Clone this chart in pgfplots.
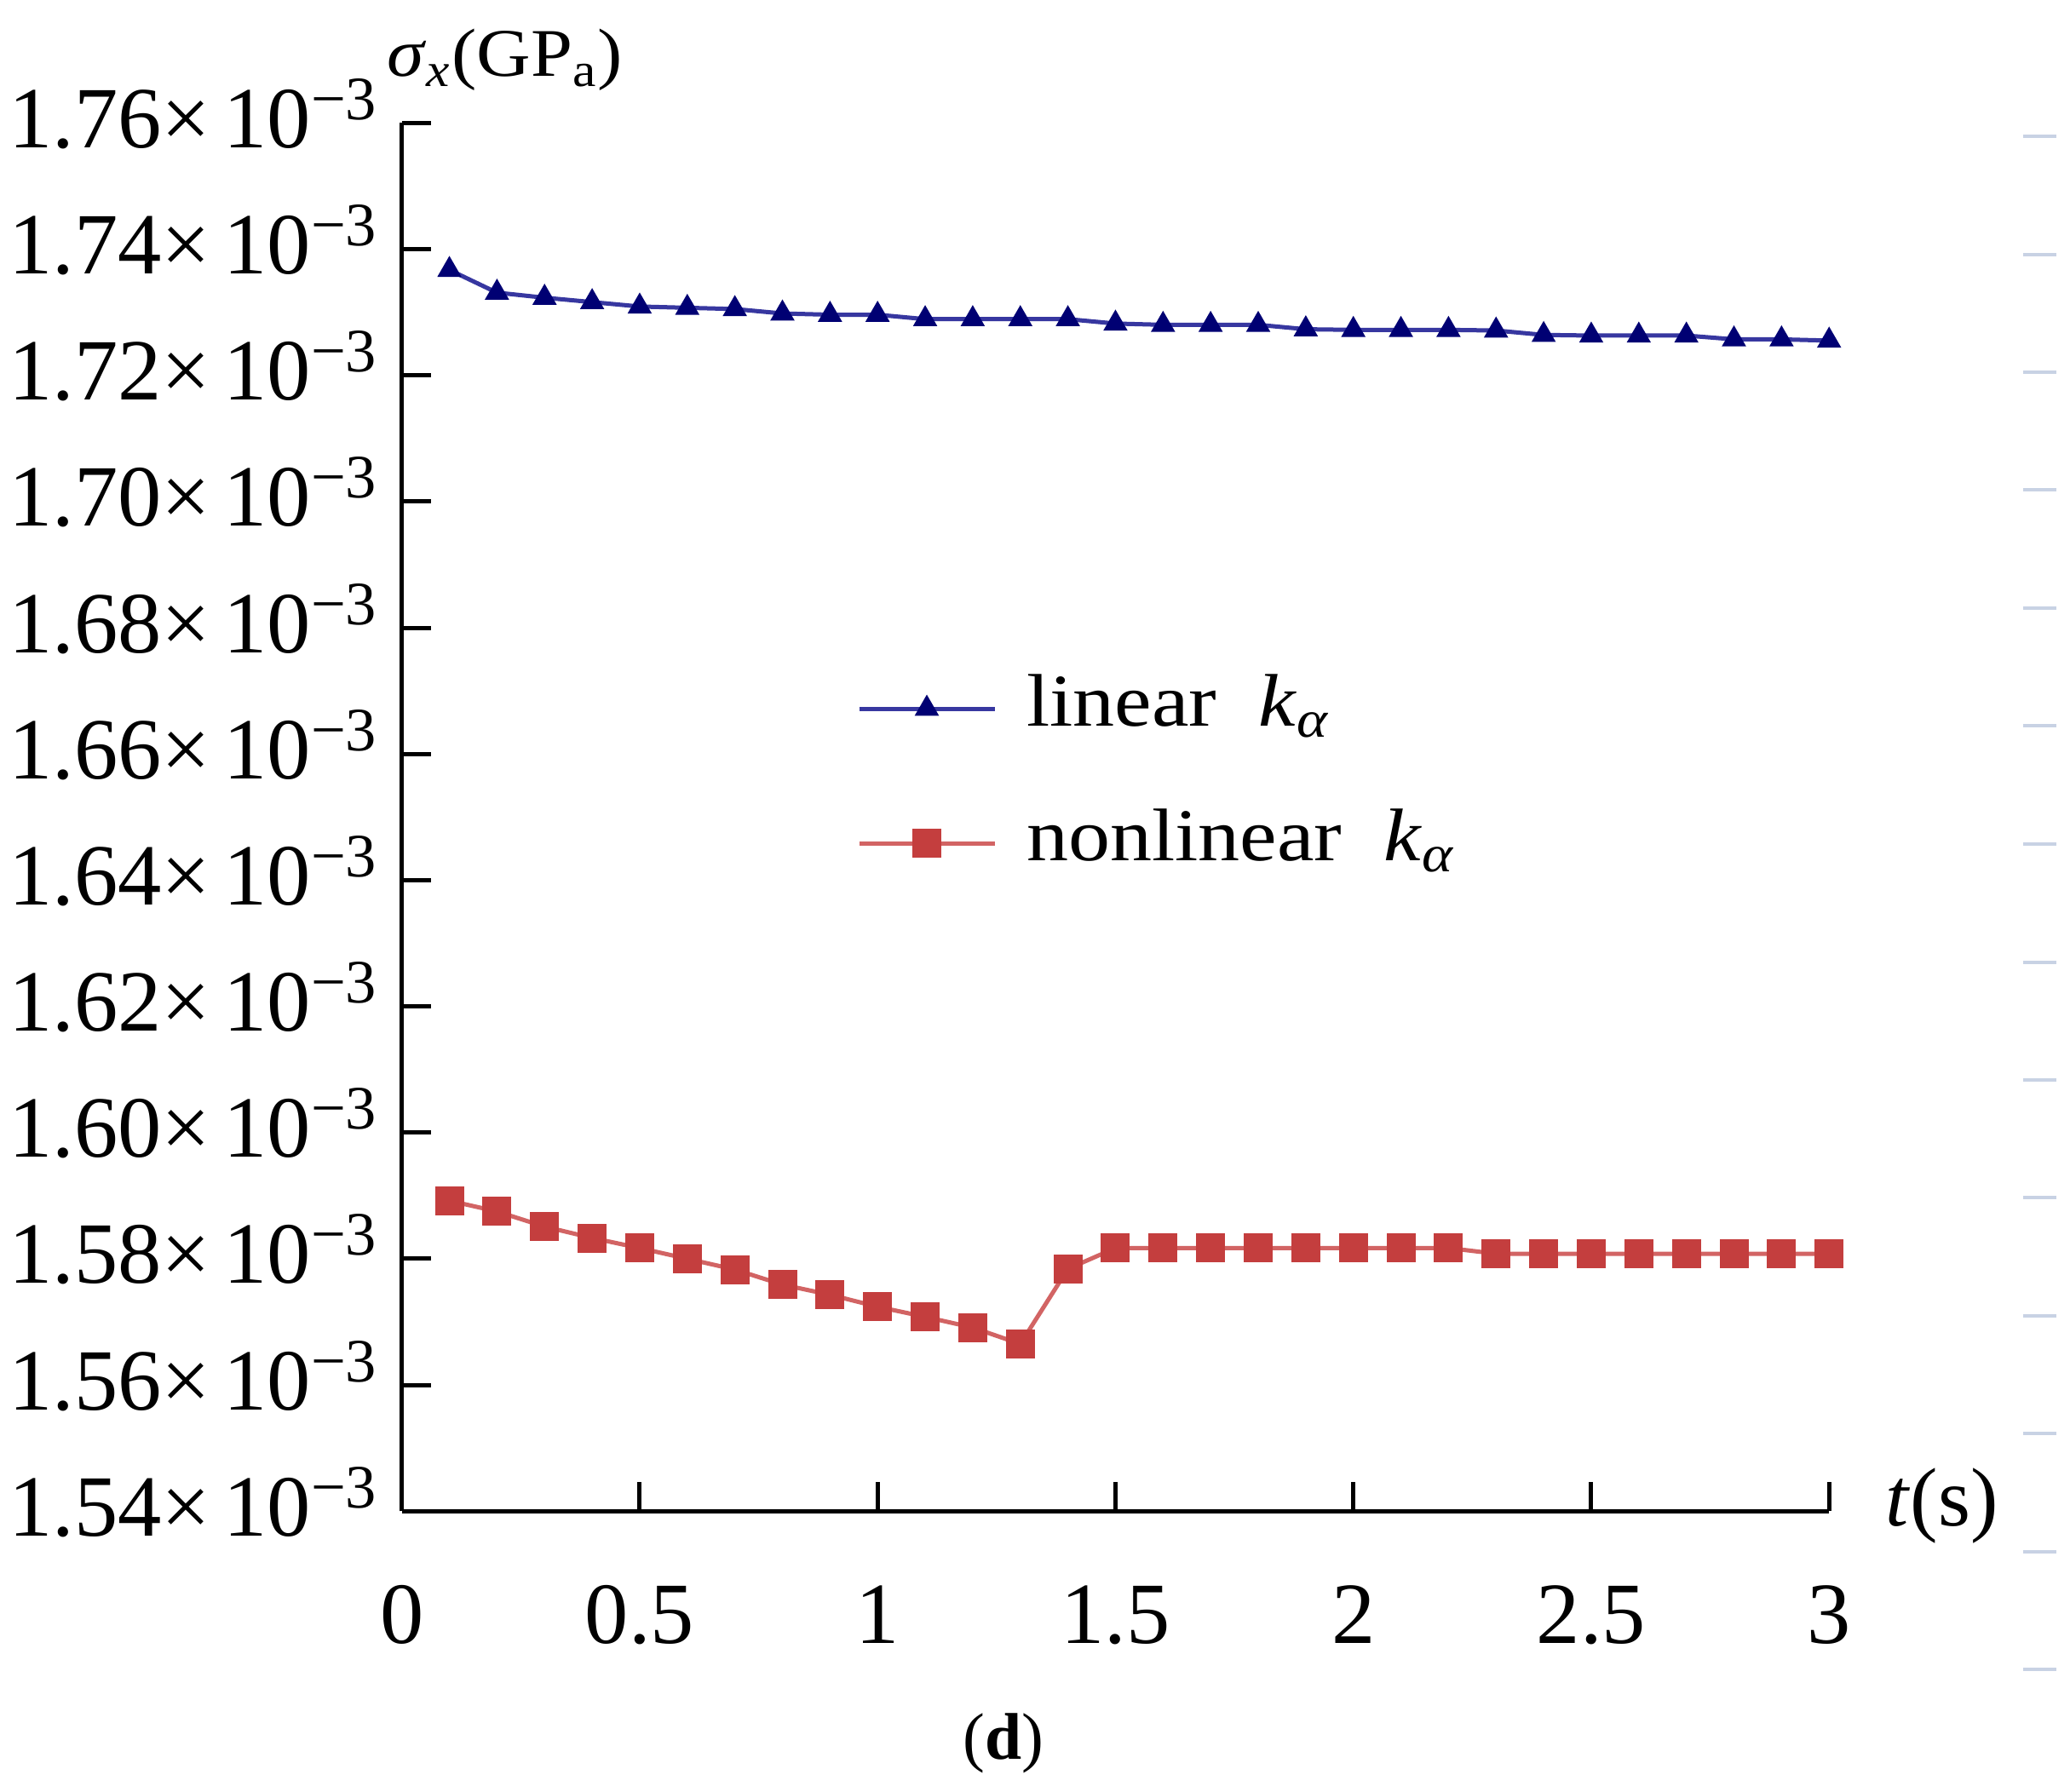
\documentclass[border=0pt]{standalone}
\usepackage{fontspec}
\setmainfont{Liberation Serif}
\newfontfamily\wideserif[FakeStretch=1.12]{Liberation Serif}
\newfontfamily\labserif[FakeStretch=1.1]{Liberation Serif}
\usepackage{pgfplots}
\pgfplotsset{compat=1.18}
\usepackage{pgfplotstable}

\definecolor{bluemark}{RGB}{0,0,115}
\definecolor{blueline}{RGB}{55,55,160}
\definecolor{redmark}{RGB}{196,62,62}
\definecolor{redline}{RGB}{210,100,100}
\definecolor{ghost}{RGB}{200,210,228}

\newcommand{\ylab}[1]{#1×\hspace{3pt}10\raisebox{6.6pt}{\fontsize{14.5}{14.5}\selectfont −3}}

\pgfplotstableread{
t s
0.1 1.7367
0.2 1.7331
0.3 1.7323
0.4 1.7316
0.5 1.7309
0.6 1.7307
0.7 1.7305
0.8 1.7298
0.9 1.7296
1.0 1.7296
1.1 1.7289
1.2 1.7289
1.3 1.7289
1.4 1.7289
1.5 1.7282
1.6 1.7280
1.7 1.7280
1.8 1.7280
1.9 1.7273
2.0 1.7272
2.1 1.7272
2.2 1.7272
2.3 1.7271
2.4 1.7264
2.5 1.7263
2.6 1.7263
2.7 1.7263
2.8 1.7257
2.9 1.7257
3.0 1.7255
}\linear

\pgfplotstableread{
t s
0.1 1.5892
0.2 1.5875
0.3 1.5851
0.4 1.5833
0.5 1.5817
0.6 1.5800
0.7 1.5783
0.8 1.5759
0.9 1.5743
1.0 1.5724
1.1 1.5708
1.2 1.5691
1.3 1.5665
1.4 1.5784
1.5 1.5817
1.6 1.5817
1.7 1.5817
1.8 1.5817
1.9 1.5817
2.0 1.5817
2.1 1.5817
2.2 1.5817
2.3 1.5808
2.4 1.5808
2.5 1.5808
2.6 1.5808
2.7 1.5808
2.8 1.5808
2.9 1.5808
3.0 1.5808
}\nonlinear

\begin{document}
\begin{tikzpicture}
\useasboundingbox (0,0) rectangle (486pt,420.6pt);
\begin{axis}[
  at={(94.34pt,65.74pt)}, anchor=south west,
  scale only axis, width=335.1pt, height=326.0pt,
  xmin=0, xmax=3, ymin=1.54, ymax=1.76,
  clip=false,
  axis lines=left,
  axis line style={-, line width=1pt, black},
  tick align=inside,
  major tick length=6.9pt,
  tick style={line width=1pt, black},
  xtick={0,0.5,1,1.5,2,2.5,3},
  xticklabels={0,0.5,1,1.5,2,2.5,3},
  ytick={1.54,1.56,1.58,1.60,1.62,1.64,1.66,1.68,1.70,1.72,1.74,1.76},
  yticklabels={\ylab{1.54},\ylab{1.56},\ylab{1.58},\ylab{1.60},\ylab{1.62},\ylab{1.64},\ylab{1.66},\ylab{1.68},\ylab{1.70},\ylab{1.72},\ylab{1.74},\ylab{1.76}},
  ticklabel style={font=\fontsize{20.5}{24}\selectfont},
  yticklabel style={anchor=base east, inner sep=0pt, xshift=-5.7pt, yshift=-5.8pt},
  xticklabel style={anchor=base, inner sep=0pt, yshift=-31pt},
  xlabel={\textit{t}(s)},
  xlabel style={at={(axis description cs:1,0)}, anchor=west, xshift=13.1pt, yshift=1.2pt, font=\fontsize{19.5}{22}\selectfont, inner sep=0pt},
  ylabel={\textit{σ}\textsubscript{\textit{x}}(GP\textsubscript{a})},
  ylabel style={rotate=-90, at={(axis description cs:0,1)}, anchor=west, xshift=-3.7pt, yshift=14.9pt, font=\labserif\fontsize{16}{18}\selectfont, inner sep=0pt},
  legend cell align=left,
  legend style={at={(axis description cs:0.3183,0.5296)}, anchor=west, draw=none, fill=none, inner sep=0pt,
    font=\wideserif\fontsize{17.5}{20}\selectfont, /tikz/row sep=15.6pt, /tikz/column sep=7pt,
    nodes={inner sep=0pt, text height=12pt, text depth=4pt}},
  legend image code/.code={\draw[mark repeat=2,mark phase=2,#1] plot coordinates {(0pt,0pt)(15.9pt,0pt)(31.8pt,0pt)};},
]
\addplot[color=blueline, line width=1pt, mark=triangle*, mark size=2.3pt, mark options={fill=bluemark, draw=bluemark, solid}] table[x=t,y=s] {\linear};
\addlegendentry{linear\ \ \textit{k}\textsubscript{\textit{α}}}
\addplot[color=redline, line width=1pt, mark=square*, mark size=2.9pt, mark options={fill=redmark, draw=redmark, solid}] table[x=t,y=s] {\nonlinear};
\addlegendentry{nonlinear\ \ \textit{k}\textsubscript{\textit{α}}}
\end{axis}
\begin{axis}[
  at={(475pt,0pt)}, anchor=south west,
  scale only axis, width=10pt, height=420.6pt,
  xmin=0, xmax=1, ymin=0, ymax=420.6,
  hide x axis,
  axis y line*=left,
  axis line style={draw=none},
  ytick={28.7,56.3,84.0,111.7,139.4,167.1,194.7,222.4,250.1,277.8,305.5,333.1,360.8,388.5},
  yticklabels={},
  tick align=inside,
  major tick length=7.8pt,
  tick style={line width=0.8pt, color=ghost},
]
\end{axis}
\node[font=\fontsize{15.5}{18}\selectfont, inner sep=0pt] at (235.6pt,11.2pt) {(\textbf{d})};
\end{tikzpicture}
\end{document}
